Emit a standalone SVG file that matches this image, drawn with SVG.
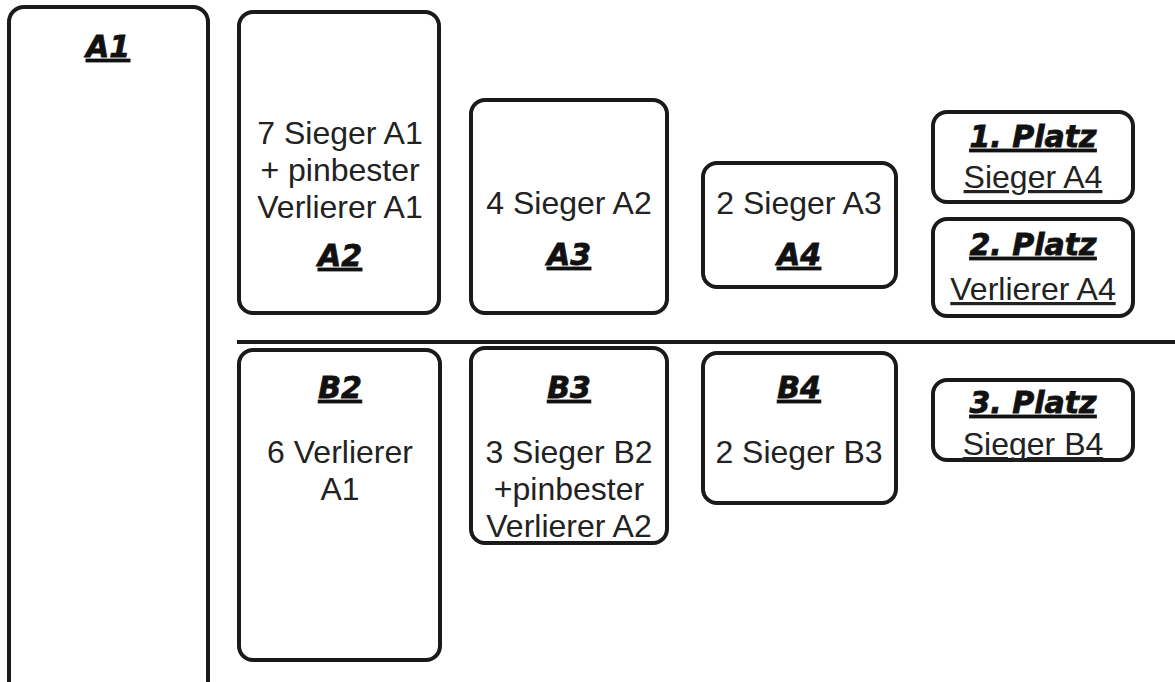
<svg xmlns="http://www.w3.org/2000/svg" width="1175" height="682" viewBox="0 0 1175 682">
<style>
.box{fill:#fff;stroke:#1a1a1a;stroke-width:4}
.t{font-family:"Liberation Sans",Arial,sans-serif;font-size:32px;fill:#222;text-anchor:middle}
.h{font-family:"DejaVu Sans","Liberation Sans",Arial,sans-serif;font-size:30px;font-weight:bold;font-style:italic;fill:#111;stroke:#111;stroke-width:0.8;text-anchor:middle;text-decoration:underline}
.u{text-decoration:underline}
</style>
<rect width="1175" height="682" fill="#fff"/>
<g id="connectors">
<line x1="237" y1="342" x2="1175" y2="342" stroke="#1a1a1a" stroke-width="4"/>
</g>
<g id="A1">
<rect class="box" x="9" y="7" width="199" height="690" rx="15"/>
<text class="h" x="108" y="57">A1</text>
</g>
<g id="A2">
<rect class="box" x="239" y="12" width="200" height="301" rx="14"/>
<text class="t" x="340" y="144">7 Sieger A1</text>
<text class="t" x="340" y="181">+ pinbester</text>
<text class="t" x="340" y="218">Verlierer A1</text>
<text class="h" x="340" y="266">A2</text>
</g>
<g id="A3">
<rect class="box" x="471" y="100" width="196" height="213" rx="14"/>
<text class="t" x="569" y="214">4 Sieger A2</text>
<text class="h" x="569" y="265">A3</text>
</g>
<g id="A4">
<rect class="box" x="703" y="163" width="193" height="124" rx="14"/>
<text class="t" x="799" y="214">2 Sieger A3</text>
<text class="h" x="799" y="265">A4</text>
</g>
<g id="P1">
<rect class="box" x="933" y="112" width="200" height="90" rx="14"/>
<text class="h" x="1033" y="147">1. Platz</text>
<text class="t u" x="1033" y="188">Sieger A4</text>
</g>
<g id="P2">
<rect class="box" x="933" y="219" width="200" height="97" rx="14"/>
<text class="h" x="1033" y="255">2. Platz</text>
<text class="t u" x="1033" y="300">Verlierer A4</text>
</g>
<g id="B2">
<rect class="box" x="239" y="350" width="201" height="310" rx="14"/>
<text class="h" x="340" y="398">B2</text>
<text class="t" x="340" y="463">6 Verlierer</text>
<text class="t" x="340" y="500">A1</text>
</g>
<g id="B3">
<rect class="box" x="471" y="348" width="196" height="195" rx="14"/>
<text class="h" x="569" y="398">B3</text>
<text class="t" x="569" y="463">3 Sieger B2</text>
<text class="t" x="569" y="500">+pinbester</text>
<text class="t" x="569" y="537">Verlierer A2</text>
</g>
<g id="B4">
<rect class="box" x="703" y="353" width="193" height="150" rx="14"/>
<text class="h" x="799" y="398">B4</text>
<text class="t" x="799" y="463">2 Sieger B3</text>
</g>
<g id="P3">
<rect class="box" x="933" y="380" width="200" height="80" rx="14"/>
<text class="h" x="1033" y="413">3. Platz</text>
<text class="t u" x="1033" y="455">Sieger B4</text>
</g>
</svg>
